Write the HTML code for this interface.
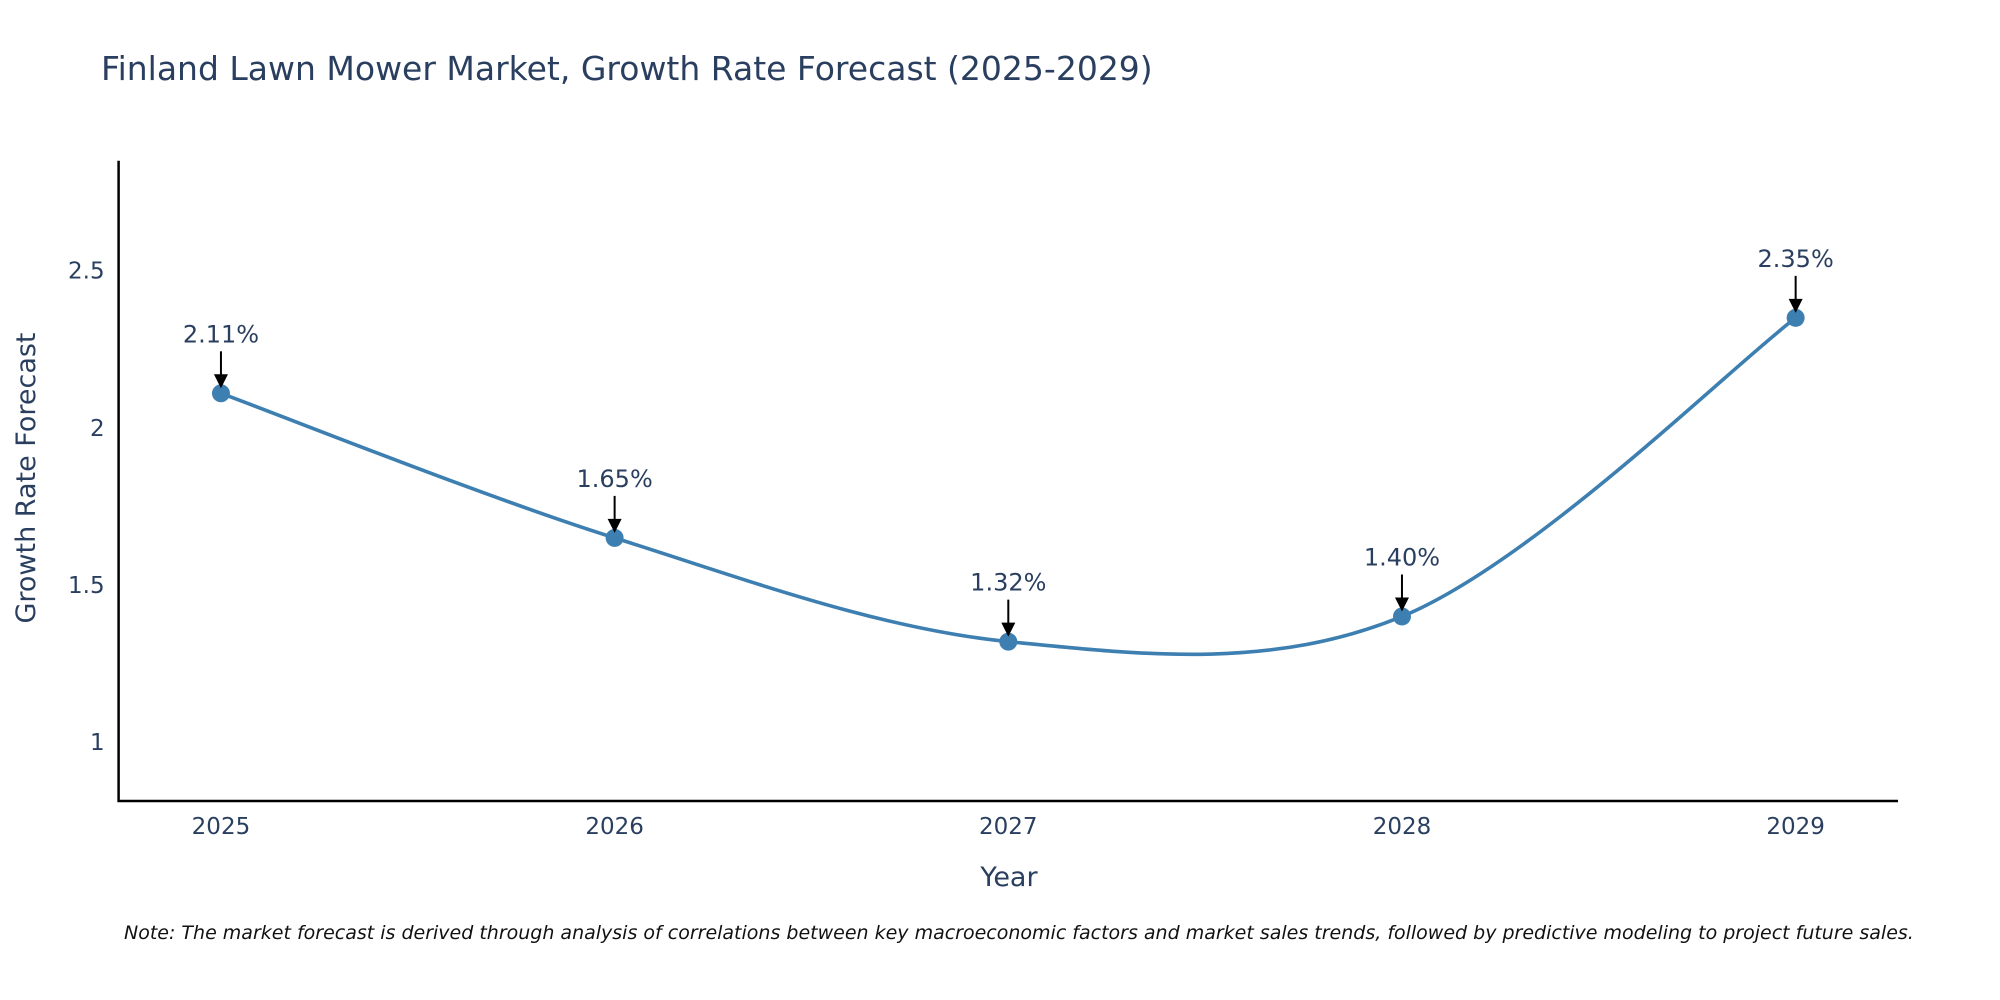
<!DOCTYPE html>
<html><head><meta charset="utf-8">
<style>
html,body{margin:0;padding:0;background:#fff;}
svg{display:block;font-family:"DejaVu Sans","Liberation Sans",sans-serif;}
</style></head>
<body>
<svg id="chart" width="2000" height="1000" viewBox="0 0 2000 1000">
<text x="101" y="80" font-size="33" fill="#2a3f5f">Finland Lawn Mower Market, Growth Rate Forecast (2025-2029)</text>
<g id="axes"></g>
<g id="series"></g>
<g id="annots"></g>
<text x="1009" y="886" font-size="27" fill="#2a3f5f" text-anchor="middle">Year</text>
<text transform="translate(35,478) rotate(-90)" font-size="27" fill="#2a3f5f" text-anchor="middle">Growth Rate Forecast</text>
<text x="124" y="939" font-size="19" font-style="italic" fill="#111">Note: The market forecast is derived through analysis of correlations between key macroeconomic factors and market sales trends, followed by predictive modeling to project future sales.</text>
</svg>
<script>
const years = [2025, 2026, 2027, 2028, 2029];
const growth = [2.11, 1.65, 1.32, 1.40, 2.35];
const labels = ["2.11%", "1.65%", "1.32%", "1.40%", "2.35%"];
const yTicks = [1, 1.5, 2, 2.5];
const yTickLabels = ["1", "1.5", "2", "2.5"];

const NS = "http://www.w3.org/2000/svg";
const L = 118.6, R = 1898, T = 160.7, B = 801;
const xMin = 2024.74, xMax = 2029.26, yMin = 0.813, yMax = 2.85;
const xs = v => L + (v - xMin) / (xMax - xMin) * (R - L);
const ys = v => B - (v - yMin) / (yMax - yMin) * (B - T);
function mk(tag, attrs, parent) {
  const e = document.createElementNS(NS, tag);
  for (const k in attrs) e.setAttribute(k, attrs[k]);
  parent.appendChild(e);
  return e;
}
const axes = document.getElementById("axes");
const yl = mk("line", {x1: L, y1: T, x2: L, y2: B + 1, stroke: "#000", "stroke-width": 2.5}, axes);


const xl = mk("line", {x1: L - 1, y1: B, x2: R, y2: B, stroke: "#000", "stroke-width": 2.5}, axes);


yTicks.forEach((t, i) => {
  const tx = mk("text", {x: L - 14, y: ys(t) + 8, "font-size": 23, fill: "#2a3f5f", "text-anchor": "end"}, axes);
  tx.textContent = yTickLabels[i];
  
  
});
years.forEach(y => {
  const tx = mk("text", {x: xs(y), y: ys(yMin) + 33, "font-size": 23, fill: "#2a3f5f", "text-anchor": "middle"}, axes);
  tx.textContent = String(y);
  
  
});
const pts = years.map((y, i) => [xs(y), ys(growth[i])]);
let d = "M" + pts[0][0] + "," + pts[0][1];
const s = 1 / 6;
for (let i = 0; i < pts.length - 1; i++) {
  const p0 = pts[Math.max(0, i - 1)], p1 = pts[i], p2 = pts[i + 1], p3 = pts[Math.min(pts.length - 1, i + 2)];
  const c1 = [p1[0] + (p2[0] - p0[0]) * s, p1[1] + (p2[1] - p0[1]) * s];
  const c2 = [p2[0] - (p3[0] - p1[0]) * s, p2[1] - (p3[1] - p1[1]) * s];
  d += " C" + c1[0] + "," + c1[1] + " " + c2[0] + "," + c2[1] + " " + p2[0] + "," + p2[1];
}
const series = document.getElementById("series");
const line = mk("path", {d: d, fill: "none", stroke: "#3d7fb1", "stroke-width": 3.6}, series);


const ann = document.getElementById("annots");
pts.forEach((p, i) => {
  const c = mk("circle", {cx: p[0], cy: p[1], r: 9, fill: "#3d7fb1"}, series);
  
  
  const a = mk("line", {x1: p[0], y1: p[1] - 42, x2: p[0], y2: p[1] - 18, stroke: "#000", "stroke-width": 2}, ann);
  
  
  const h = mk("polygon", {points: (p[0] - 7) + "," + (p[1] - 19) + " " + (p[0] + 7) + "," + (p[1] - 19) + " " + p[0] + "," + (p[1] - 5), fill: "#000"}, ann);
  
  
  const t = mk("text", {x: p[0], y: p[1] - 51, "font-size": 24, fill: "#2a3f5f", "text-anchor": "middle"}, ann);
  t.textContent = labels[i];
  
  
});
</script>
</body></html>
